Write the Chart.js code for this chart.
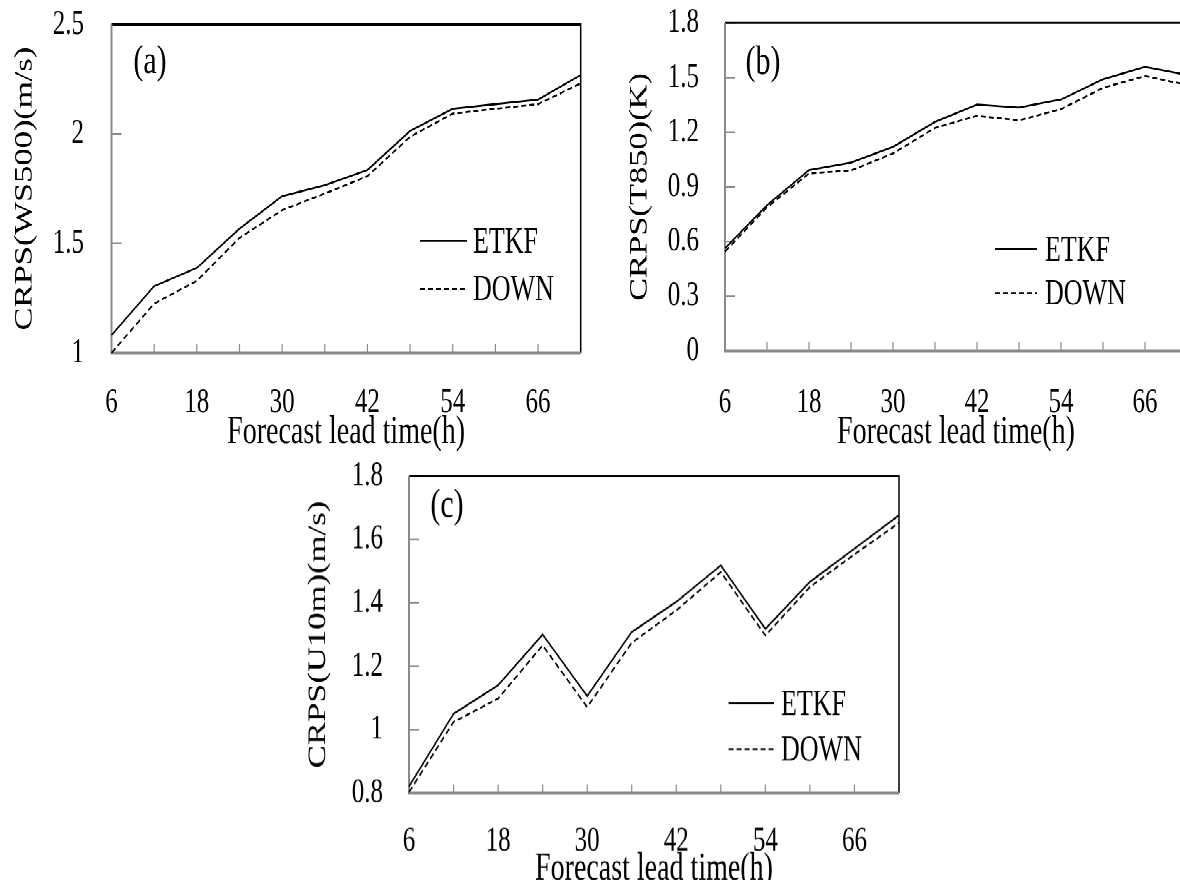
<!DOCTYPE html>
<html>
<head>
<meta charset="utf-8">
<script src="https://cdn.jsdelivr.net/npm/chart.js@4.4.1/dist/chart.umd.min.js"></script>
<style>
  html, body { margin:0; padding:0; background:#fff; width:1180px; height:880px; overflow:hidden; }
  #stage { position:absolute; left:0; top:0; width:1180px; transform-origin:0 0; }
  #stage canvas { position:absolute; }
</style>
</head>
<body>
<div id="stage"></div>
<script>
// ---------- data ----------
const leadTimes = [6, 12, 18, 24, 30, 36, 42, 48, 54, 60, 66, 72];
const shownLeadTimes = [6, 18, 30, 42, 54, 66];
const seriesNames = ['ETKF', 'DOWN'];
const xTitle = 'Forecast lead time(h)';

const ws500ETKF = [1.081, 1.305, 1.388, 1.567, 1.716, 1.766, 1.835, 2.014, 2.115, 2.136, 2.157, 2.269];
const ws500DOWN = [1.000, 1.225, 1.329, 1.525, 1.652, 1.728, 1.807, 1.987, 2.093, 2.115, 2.136, 2.231];
const ws500Ticks = [1, 1.5, 2, 2.5];

const t850ETKF = [0.563, 0.800, 0.992, 1.034, 1.120, 1.257, 1.352, 1.336, 1.380, 1.491, 1.559, 1.515];
const t850DOWN = [0.545, 0.788, 0.974, 0.990, 1.084, 1.224, 1.290, 1.266, 1.327, 1.444, 1.509, 1.460];
const t850Ticks = [0, 0.3, 0.6, 0.9, 1.2, 1.5, 1.8];

const u10ETKF = [0.821, 1.050, 1.140, 1.300, 1.106, 1.308, 1.403, 1.518, 1.318, 1.466, 1.571, 1.676];
const u10DOWN = [0.803, 1.024, 1.098, 1.266, 1.071, 1.274, 1.376, 1.497, 1.297, 1.450, 1.553, 1.652];
const u10Ticks = [0.8, 1, 1.2, 1.4, 1.6, 1.8];

// ---------- layout & styling ----------
const S = 1.38;                      // vertical stretch of the whole figure
const FONT = '"Liberation Serif", "Times New Roman", serif';
const AXIS_GRAY = '#8a8a8a';
const TICK_SIZE = 25, XTITLE_SIZE = 28, YTITLE_SIZE = 25, KEY_SIZE = 26, LETTER_SIZE = 30;

const stage = document.getElementById('stage');
stage.style.height = (880 / S) + 'px';
stage.style.transform = 'scaleY(' + S + ')';

const framePlugin = {
  id: 'frame',
  beforeDatasetsDraw(chart) {
    const { ctx, chartArea: a, scales: { x, y } } = chart;
    ctx.save();
    ctx.strokeStyle = AXIS_GRAY;
    ctx.lineWidth = 1.2;
    ctx.beginPath();
    x.ticks.forEach((t, i) => {
      const px = x.getPixelForTick(i);
      ctx.moveTo(px, a.bottom); ctx.lineTo(px, a.bottom - 6.5);
    });
    y.ticks.forEach((t, i) => {
      const py = y.getPixelForTick(i);
      ctx.moveTo(a.left, py); ctx.lineTo(a.left + 10, py);
    });
    ctx.stroke();
    ctx.strokeStyle = '#000';
    ctx.lineWidth = 1.5;
    ctx.beginPath();
    ctx.moveTo(a.left, a.top); ctx.lineTo(a.right, a.top); ctx.lineTo(a.right, a.bottom);
    ctx.stroke();
    ctx.strokeStyle = AXIS_GRAY;
    ctx.lineWidth = 2;
    ctx.beginPath();
    ctx.moveTo(a.left, a.top); ctx.lineTo(a.left, a.bottom); ctx.lineTo(a.right, a.bottom);
    ctx.stroke();
    ctx.restore();
  }
};

const keyPlugin = {
  id: 'key',
  afterDatasetsDraw(chart, args, o) {
    const { ctx, chartArea: a } = chart;
    ctx.save();
    ctx.fillStyle = '#000';
    ctx.textBaseline = 'middle';
    ctx.textAlign = 'left';
    ctx.font = KEY_SIZE + 'px ' + FONT;
    chart.data.datasets.forEach((ds, i) => {
      const yy = a.top + o.dy + i * o.gap;
      const x0 = a.left + o.dx;
      ctx.strokeStyle = ds.borderColor;
      ctx.lineWidth = ds.borderWidth;
      ctx.setLineDash(ds.borderDash || []);
      ctx.beginPath(); ctx.moveTo(x0, yy); ctx.lineTo(x0 + o.lineLen, yy); ctx.stroke();
      ctx.setLineDash([]);
      ctx.fillText(ds.label, x0 + o.lineLen + o.textGap, yy + 1.5);
    });
    ctx.font = LETTER_SIZE + 'px ' + FONT;
    ctx.textAlign = 'center';
    ctx.fillText(o.letter, a.left + o.letterDx, a.top + o.letterDy);
    ctx.restore();
  }
};

// P: positions measured on the 1180x880 figure (real pixels)
function makeChart(P, etkf, down, yTicks, yTitle) {
  const cv = document.createElement('canvas');
  const w = P.canvas.w, h = P.canvas.h / S;
  cv.width = w; cv.height = h;
  cv.style.left = P.canvas.left + 'px';
  cv.style.top = (P.canvas.top / S) + 'px';
  cv.style.width = w + 'px';
  cv.style.height = h + 'px';
  stage.appendChild(cv);

  const padTop = (P.area.t - P.canvas.top) / S;
  const padRight = P.canvas.left + w - P.area.r;
  const yWidth = P.area.l - P.canvas.left;
  const xHeight = (P.canvas.top + P.canvas.h - P.area.b) / S;
  const xLabelPad = (P.xLabelY - P.area.b) / S - TICK_SIZE * 1.2 / 2;
  const xTitlePad = (P.canvas.top + P.canvas.h - P.xTitleY) / S - XTITLE_SIZE * 1.2 / 2;
  const yLabelPad = P.area.l - P.yLabelRight;
  const yTitlePad = (P.yTitleX - P.canvas.left) - YTITLE_SIZE * 1.2 / 2;
  const key = {
    dx: P.key.x0 - P.area.l, dy: (P.key.y1 - P.area.t) / S, gap: (P.key.y2 - P.key.y1) / S,
    lineLen: P.key.len, textGap: P.key.gap,
    letter: P.letter.text, letterDx: P.letter.x - P.area.l, letterDy: (P.letter.y - P.area.t) / S
  };

  const datasets = [etkf, down].map((vals, i) => ({
    label: seriesNames[i],
    data: vals,
    borderColor: '#000',
    borderWidth: 1.4,
    borderDash: i === 1 ? [5, 3] : [],
    pointRadius: 0,
    tension: 0,
    fill: false
  }));

  return new Chart(cv, {
    type: 'line',
    data: { labels: leadTimes, datasets },
    plugins: [framePlugin, keyPlugin],
    options: {
      responsive: false,
      animation: false,
      devicePixelRatio: 2,
      layout: { padding: { left: 0, top: padTop, right: padRight, bottom: 0 } },
      plugins: { legend: { display: false }, tooltip: { enabled: false }, key },
      scales: {
        x: {
          type: 'category',
          offset: false,
          grid: { display: false, drawTicks: false },
          border: { display: false },
          ticks: {
            autoSkip: false, maxRotation: 0, color: '#000', padding: xLabelPad,
            font: { family: FONT, size: TICK_SIZE },
            callback: (v, i) => shownLeadTimes.includes(leadTimes[i]) ? String(leadTimes[i]) : ''
          },
          title: { display: true, text: xTitle, color: '#000', font: { family: FONT, size: XTITLE_SIZE },
                   padding: { top: xTitlePad, bottom: xTitlePad } },
          afterFit: s => { s.height = xHeight; s.paddingLeft = 0; s.paddingRight = 0; }
        },
        y: {
          type: 'linear',
          min: yTicks[0],
          max: yTicks[yTicks.length - 1],
          grid: { display: false, drawTicks: false },
          border: { display: false },
          afterBuildTicks: s => { s.ticks = yTicks.map(v => ({ value: v })); },
          ticks: { color: '#000', padding: yLabelPad, font: { family: FONT, size: TICK_SIZE },
                   callback: v => String(v) },
          title: { display: true, text: yTitle, color: '#000', font: { family: FONT, size: YTITLE_SIZE },
                   padding: { top: yTitlePad, bottom: yTitlePad } },
          afterFit: s => { s.width = yWidth; s.paddingTop = 0; s.paddingBottom = 0; }
        }
      }
    }
  });
}

makeChart({
  canvas: { left: 0, top: 0, w: 600, h: 490 },
  area: { l: 111.5, r: 580.7, t: 24.5, b: 353 },
  xLabelY: 403, xTitleY: 433, yLabelRight: 84, yTitleX: 25,
  key: { x0: 420, len: 47, gap: 6, y1: 241, y2: 289 },
  letter: { text: '(a)', x: 150, y: 62 }
}, ws500ETKF, ws500DOWN, ws500Ticks, 'CRPS(WS500)(m/s)');

makeChart({
  canvas: { left: 600, top: 0, w: 600, h: 490 },
  area: { l: 725, r: 1187, t: 23, b: 351 },
  xLabelY: 403, xTitleY: 433, yLabelRight: 699, yTitleX: 640,
  key: { x0: 995, len: 42, gap: 8, y1: 249, y2: 293 },
  letter: { text: '(b)', x: 763, y: 63 }
}, t850ETKF, t850DOWN, t850Ticks, 'CRPS(T850)(K)');

makeChart({
  canvas: { left: 290, top: 450, w: 630, h: 470 },
  area: { l: 409, r: 899, t: 476, b: 793 },
  xLabelY: 841, xTitleY: 869, yLabelRight: 383, yTitleX: 318.5,
  key: { x0: 728.6, len: 45.4, gap: 7, y1: 702.7, y2: 748.3 },
  letter: { text: '(c)', x: 447, y: 506 }
}, u10ETKF, u10DOWN, u10Ticks, 'CRPS(U10m)(m/s)');
</script>
</body>
</html>
